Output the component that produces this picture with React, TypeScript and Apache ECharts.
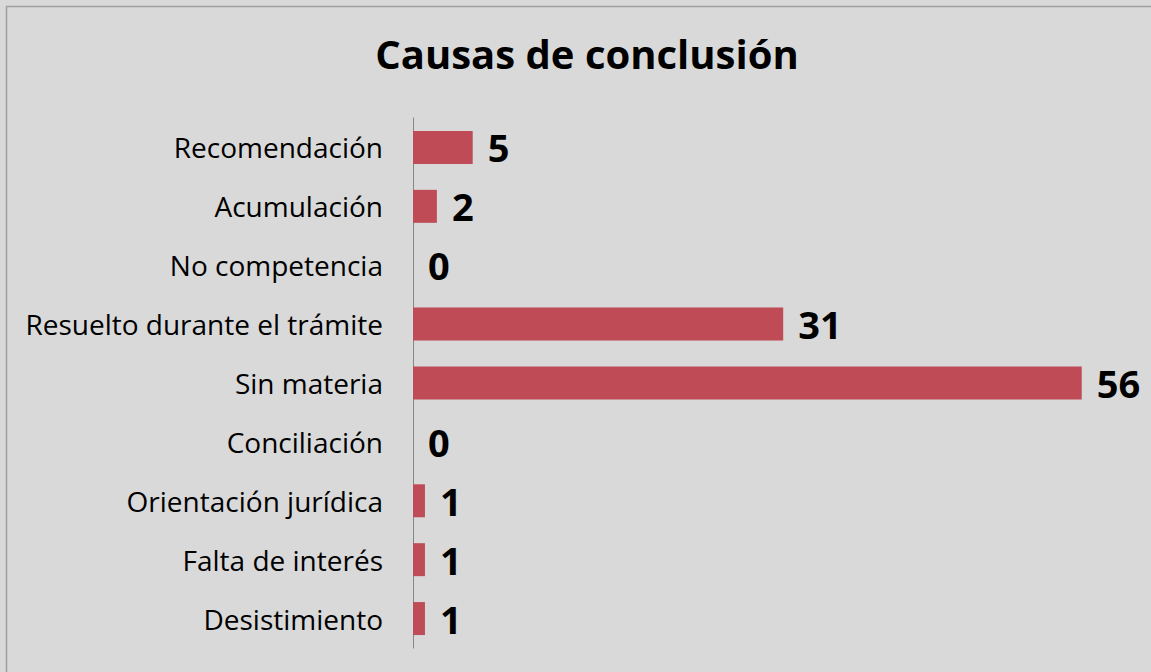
import React, { useEffect, useRef } from "react";
import * as echarts from "echarts";

const categories = [
  "Recomendación",
  "Acumulación",
  "No competencia",
  "Resuelto durante el trámite",
  "Sin materia",
  "Conciliación",
  "Orientación jurídica",
  "Falta de interés",
  "Desistimiento",
];
const values = [5, 2, 0, 31, 56, 0, 1, 1, 1];
const titleText = "Causas de conclusión";

export default function App() {
  const ref = useRef<HTMLDivElement>(null);
  useEffect(() => {
    document.body.style.margin = "0";
    const chart = echarts.init(ref.current!, undefined, { renderer: "svg" });
    chart.setOption({
      animation: false,
      backgroundColor: "#d9d9d9",
      title: {
        text: titleText,
        left: 582,
        textAlign: "center",
        top: 28,
        textStyle: {
          fontFamily: "Open Sans",
          fontWeight: "bold",
          fontSize: 40,
          color: "#000",
        },
      },
      graphic: [
        {
          type: "rect",
          shape: { x: 6.5, y: 6.5, width: 1200, height: 800 },
          style: { fill: "none", stroke: "#a0a0a0", lineWidth: 1.5 },
          silent: true,
        },
      ],
      grid: { left: 413, top: 118, bottom: 24, right: 21.5, containLabel: false },
      xAxis: {
        type: "value",
        min: 0,
        max: 60,
        show: false,
      },
      yAxis: {
        type: "category",
        data: categories,
        inverse: true,
        axisLine: { show: true, lineStyle: { color: "#868686", width: 1 } },
        axisTick: { show: false },
        axisLabel: {
          margin: 30,
          fontFamily: "Open Sans",
          fontSize: 28,
          color: "#000",
        },
      },
      series: [
        {
          type: "bar",
          data: values,
          barCategoryGap: "44%",
          itemStyle: { color: "#be4b55" },
          label: {
            show: true,
            position: "right",
            distance: 15,
            fontFamily: "Open Sans",
            fontWeight: "bold",
            fontSize: 38,
            color: "#000",
          },
        },
      ],
    });
    return () => chart.dispose();
  }, []);
  return <div ref={ref} style={{ width: 1151, height: 672 }} />;
}
